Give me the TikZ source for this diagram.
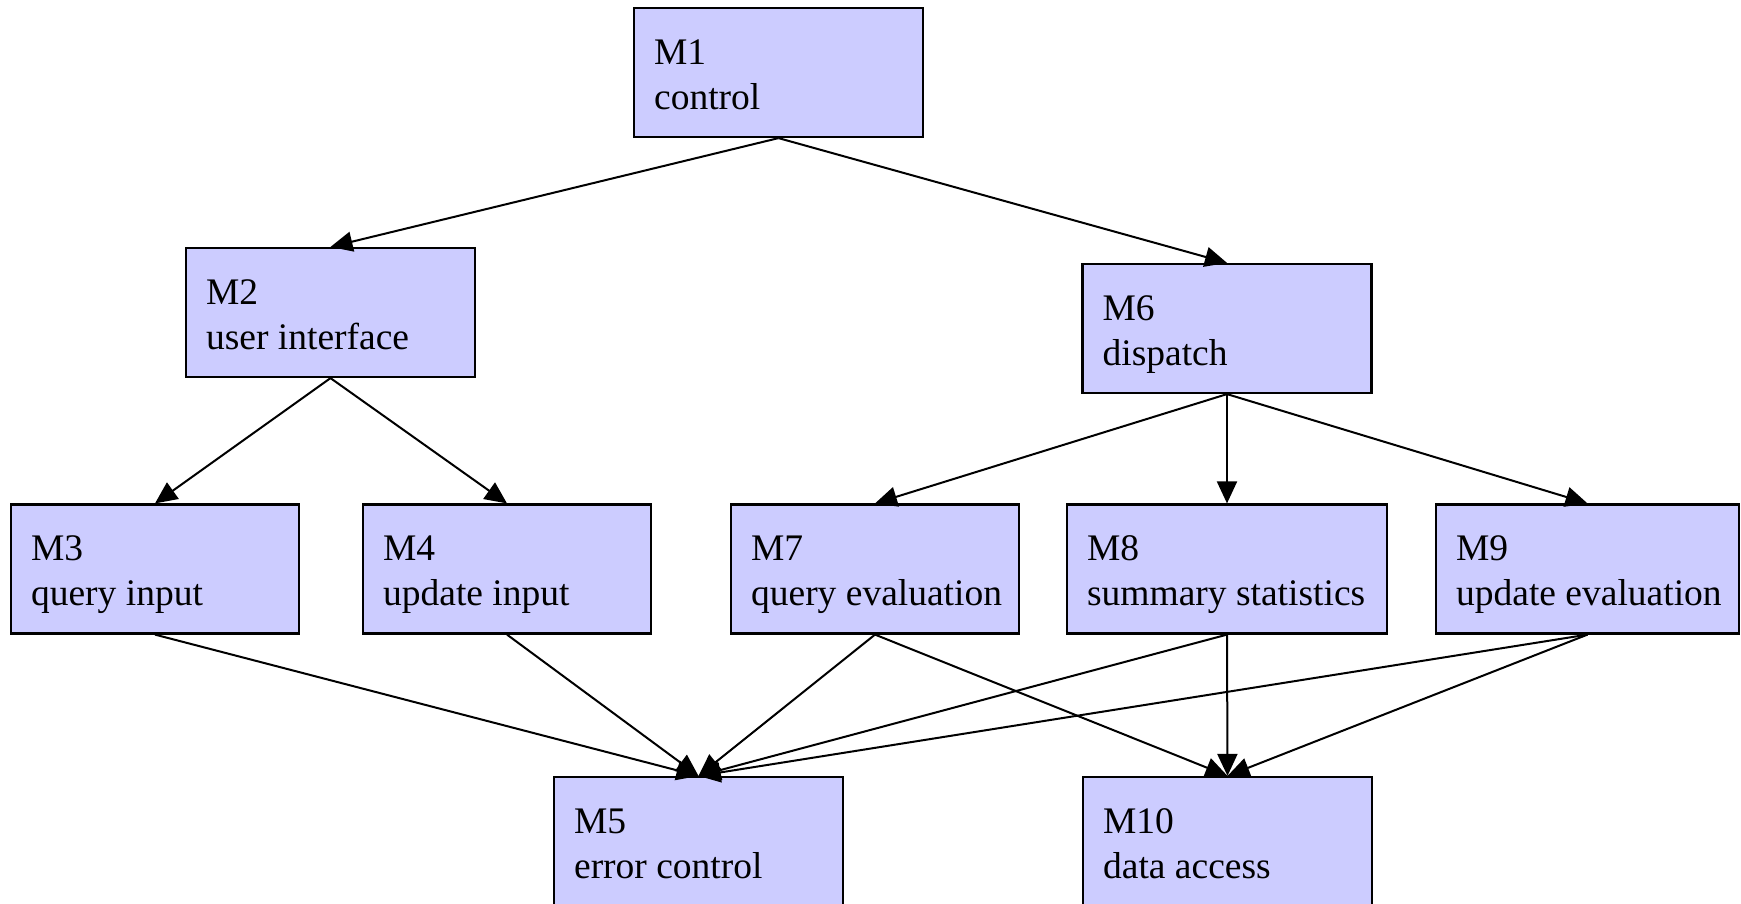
\documentclass[tikz,border=0pt]{standalone}
\usepackage{fontspec}
\setmainfont{Liberation Serif}
\usetikzlibrary{arrows.meta}
\definecolor{boxfill}{HTML}{CCCCFF}
\tikzset{
  mbox/.style={draw=black, fill=boxfill, line width=2.2pt, rectangle, minimum height=129pt, inner sep=0pt},
  txt/.style={anchor=base west, inner sep=0pt, align=left, font=\fontsize{37.5}{45}\selectfont},
  edge/.style={line width=2pt, -{Triangle[length=22pt,width=20pt]}}
}
\begin{document}
\begin{tikzpicture}[x=1pt,y=-1pt]
\useasboundingbox (0,0) rectangle (1741,903);
\node[mbox, minimum width=289pt] (m1) at (778.5,72.5) {};
\node[mbox, minimum width=289pt] (m2) at (330.5,312.5) {};
\node[mbox, minimum width=289pt] (m6) at (1227,328.5) {};
\node[mbox, minimum width=288pt] (m3) at (155,569) {};
\node[mbox, minimum width=288pt] (m4) at (507,569) {};
\node[mbox, minimum width=288pt] (m7) at (875,569) {};
\node[mbox, minimum width=320pt] (m8) at (1227,569) {};
\node[mbox, minimum width=303pt] (m9) at (1587.5,569) {};
\node[mbox, minimum width=289pt] (m5) at (698.5,841.5) {};
\node[mbox, minimum width=289pt] (m10) at (1227.5,841.5) {};

\node[txt] (t1) at ([shift={(21pt,-102.5pt)}]m1.north west) {M1\\control};
\node[txt] (t2) at ([shift={(21pt,-102.5pt)}]m2.north west) {M2\\user interface};
\node[txt] (t6) at ([shift={(21pt,-102.5pt)}]m6.north west) {M6\\dispatch};
\node[txt] (t3) at ([shift={(21pt,-102.5pt)}]m3.north west) {M3\\query input};
\node[txt] (t4) at ([shift={(21pt,-102.5pt)}]m4.north west) {M4\\update input};
\node[txt] (t7) at ([shift={(21pt,-102.5pt)}]m7.north west) {M7\\query evaluation};
\node[txt] (t8) at ([shift={(21pt,-102.5pt)}]m8.north west) {M8\\summary statistics};
\node[txt] (t9) at ([shift={(21pt,-102.5pt)}]m9.north west) {M9\\update evaluation};
\node[txt] (t5) at ([shift={(21pt,-102.5pt)}]m5.north west) {M5\\error control};
\node[txt] (t10) at ([shift={(21pt,-102.5pt)}]m10.north west) {M10\\data access};

\draw[edge] (m1.south) -- (m2.north);
\draw[edge] (m1.south) -- (m6.north);
\draw[edge] (m2.south) -- (m3.north);
\draw[edge] (m2.south) -- (m4.north);
\draw[edge] (m6.south) -- (m7.north);
\draw[edge] (m6.south) -- (m8.north);
\draw[edge] (m6.south) -- (m9.north);
\draw[edge] (m3.south) -- (m5.north);
\draw[edge] (m4.south) -- (m5.north);
\draw[edge] (m7.south) -- (m5.north);
\draw[edge] (m8.south) -- (m5.north);
\draw[edge] (m9.south) -- (m5.north);
\draw[edge] (m7.south) -- (m10.north);
\draw[edge] (m8.south) -- (m10.north);
\draw[edge] (m9.south) -- (m10.north);
\end{tikzpicture}
\end{document}
